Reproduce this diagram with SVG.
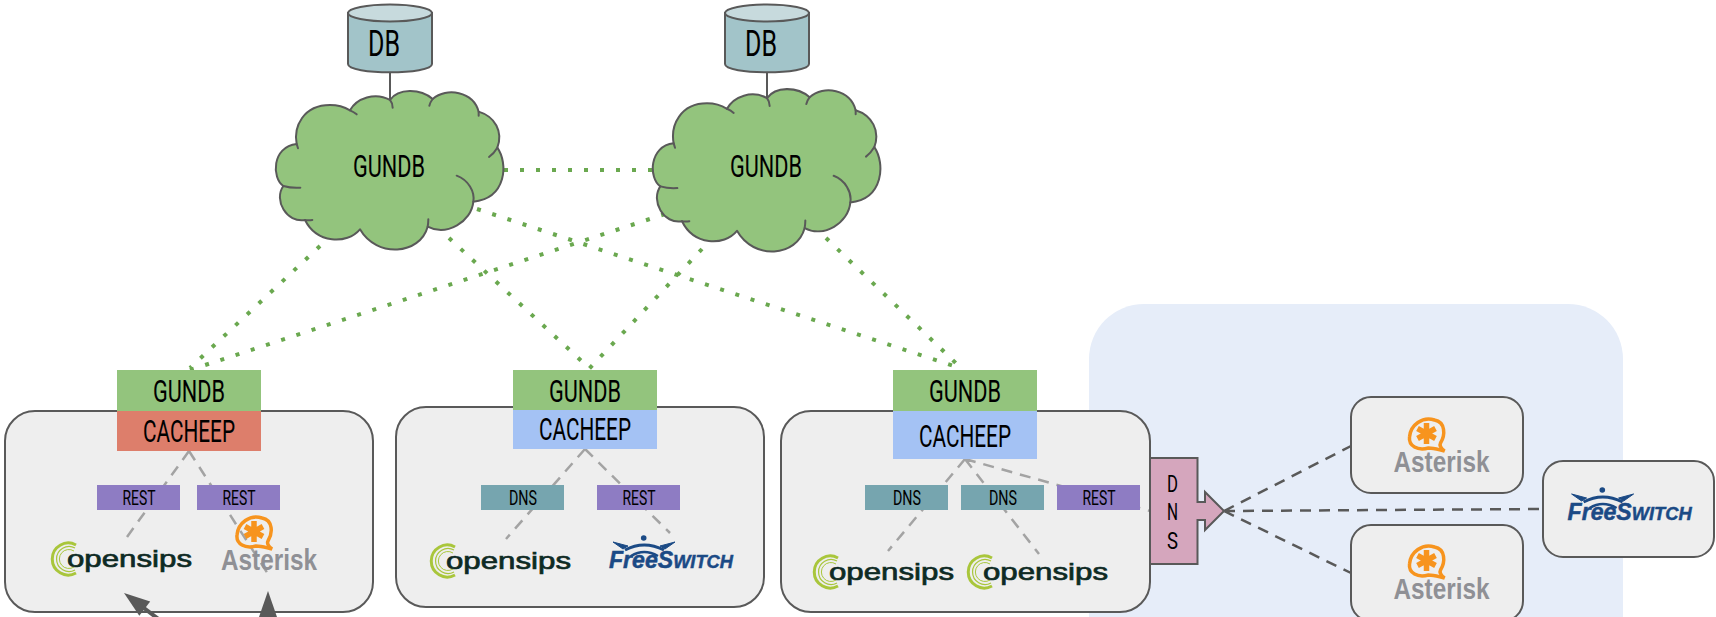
<svg xmlns="http://www.w3.org/2000/svg" xmlns:xlink="http://www.w3.org/1999/xlink" width="1716" height="617" viewBox="0 0 1716 617">
<style>
text{font-family:Roboto,"Liberation Sans",sans-serif;fill:#000;text-anchor:middle}
.big{font-size:31px}
.small{font-size:21px}
.box{fill:#eeeeee;stroke:#595959;stroke-width:2}
.gun{fill:#93c47d}.red{fill:#dd7e6b}.blu{fill:#a4c2f4}.rest{fill:#8e7cc3}.dns{fill:#76a5af}
.dot{fill:none;stroke:#6aa84f;stroke-width:4;stroke-dasharray:4 12}
.dash{fill:none;stroke:#a3a3a3;stroke-width:2.500;stroke-dasharray:11 8}
.dash2{fill:none;stroke:#595959;stroke-width:2.500;stroke-dasharray:11 8}
.solid{stroke:#595959;stroke-width:2;fill:none}
.cl{fill:#93c47d;stroke:#595959;stroke-width:6;stroke-linejoin:round}
.cl2{fill:none;stroke:#595959;stroke-width:6;stroke-linecap:round}
.osi{font-family:"Liberation Sans",sans-serif;font-size:24px;fill:#0e2a24;text-anchor:start;stroke:#0e2a24;stroke-width:.7}
.ast{font-family:"Liberation Sans",sans-serif;font-size:29px;fill:#8f9095;font-weight:bold;text-anchor:start}
.fs{font-family:"Liberation Sans",sans-serif;font-size:24px;fill:#1b4a85;font-weight:bold;font-style:italic;text-anchor:start;stroke:#1b4a85;stroke-width:.5}
.fs2{font-size:19px}
</style>
<defs>
<marker id="head" markerUnits="userSpaceOnUse" markerWidth="30" markerHeight="24" viewBox="0 0 30 24" refX="18" refY="12" orient="auto"><path d="M2,3 L28,12 L2,21 Z" fill="#595959"/></marker>
<g id="cloud">
<path class="cl" d="M140,432 C130,380 160,315 240,315 C265,315 285,322 300,331 C320,295 375,275 420,300 C445,265 510,265 548,297 C590,260 670,275 686,335 C735,350 760,395 742,443 C775,490 770,595 670,605 C665,665 590,710 533,680 C510,765 380,775 330,688 C290,735 200,730 165,660 C110,670 70,600 100,558 C65,535 65,440 140,432 Z"/>
<path class="cl2" d="M300,331 Q312,336 320,343 M420,300 Q428,310 428,323 M548,297 Q541,306 538,317 M686,335 L686,347 M742,443 Q732,460 717,471 M620,527 C655,540 675,575 670,605 M533,680 Q535,668 535,658 M165,660 Q176,662 187,660 M100,558 Q125,565 151,563 M140,432 Q142,438 144,445"/>
</g>
<g id="cyl">
<path d="M348,13 V64 C348,75 432,75 432,64 V13 Z" fill="#a2c4c9" stroke="#595959" stroke-width="2"/>
<ellipse cx="390" cy="13" rx="42" ry="8.500" fill="#c7dadd" stroke="#595959" stroke-width="2"/>
</g>
<g id="swirl" fill="none" stroke="#a9c63b">
<path d="M76,545 A16,16 0 1 0 76,573" stroke-width="3"/>
<path d="M75,548 A12.500,12.500 0 1 0 75,570" stroke-width="1.200"/>
<path d="M74,551 A9.500,9.500 0 1 0 74,567" stroke-width="1"/>
</g>
<g id="bubble">
<path d="M262,518 C250,514 238,523 237,535 C236,544 245,549 256,546 C262,546 267,548 272,549 C268,546 267,543 268,541 C273,533 273,520 262,518 Z" fill="none" stroke="#f7941e" stroke-width="3.500"/>
<path d="M254,521 V542 M245,526.500 L263,536.500 M263,526.500 L245,536.500" stroke="#f7941e" stroke-width="5.500" fill="none"/>
</g>
<g id="wings" fill="none" stroke="#1b4a85">
<circle cx="643.700" cy="538" r="2.800" fill="#1b4a85" stroke="none"/>
<path d="M613,542 L628,546 L623,549 Z M675,542 L660,546 L665,549 Z" fill="#1b4a85" stroke-width="1"/>
<path d="M625,550 Q644,540 664,550" stroke-width="3"/>
<path d="M631,556 Q644,548 658,556" stroke-width="2.500"/>
</g>
</defs>

<rect id="region" x="1089" y="304" width="534" height="400" rx="55" fill="#e6edf9"/>

<g id="host1"><rect class="box" x="5" y="411" width="368" height="201" rx="30"/></g>
<g id="host2"><rect class="box" x="396" y="407" width="368" height="200" rx="30"/></g>
<g id="host3"><rect class="box" x="781" y="411" width="369" height="201" rx="30"/></g>

<g id="connectors">
<path class="dot" d="M504,170 H653"/>
<path class="dot" d="M320,246 L190,368"/>
<path class="dot" d="M449,238 L588,367"/>
<path class="dot" d="M477,209 L963,369"/>
<path class="dot" d="M665,214 L190,370"/>
<path class="dot" d="M702,249 L588,370"/>
<path class="dot" d="M826,238 L963,370"/>
<path class="solid" d="M390,72 V100 M767,72 V98"/>
<path class="dash" d="M189,451 L127,537 M189,451 L268,574"/>
<path class="dash" d="M585,449 L506,539 M585,449 L670,533"/>
<path class="dash" d="M965,459 L888,551 M965,459 L1039,554 M965,459 L1150,511"/>
<path class="dash2" d="M1224,511 L1351,446 M1224,511 L1351,573 M1224,511 L1542,509"/>
<line x1="165" y1="624" x2="132" y2="599" stroke="#595959" stroke-width="4" marker-end="url(#head)"/>
<line x1="268" y1="640" x2="268" y2="601" stroke="#595959" stroke-width="4" marker-end="url(#head)"/>
</g>

<g id="db1"><use xlink:href="#cyl"/><text x="384" y="56" textLength="32" lengthAdjust="spacingAndGlyphs" style="font-size:37px">DB</text></g>
<g id="db2"><use xlink:href="#cyl" transform="translate(377,0)"/><text x="761" y="56" textLength="32" lengthAdjust="spacingAndGlyphs" style="font-size:37px">DB</text></g>
<g id="cloud1"><use xlink:href="#cloud" transform="translate(250,0) scale(.33333)"/><text class="big" x="389" y="177" textLength="72" lengthAdjust="spacingAndGlyphs">GUNDB</text></g>
<g id="cloud2"><use xlink:href="#cloud" transform="translate(627,-4.300) scale(.33333,.3417)"/><text class="big" x="766" y="177" textLength="72" lengthAdjust="spacingAndGlyphs">GUNDB</text></g>

<g id="gundb1"><rect class="gun" x="117" y="370" width="144" height="41"/><text class="big" x="189" y="402" textLength="72" lengthAdjust="spacingAndGlyphs">GUNDB</text></g>
<g id="cacheep1"><rect class="red" x="117" y="411" width="144" height="40"/><text class="big" x="189" y="442" textLength="92" lengthAdjust="spacingAndGlyphs">CACHEEP</text></g>
<g id="rest1"><rect class="rest" x="97" y="485" width="83" height="25"/><text class="small" x="139" y="505" textLength="33" lengthAdjust="spacingAndGlyphs">REST</text></g>
<g id="rest2"><rect class="rest" x="197" y="485" width="83" height="25"/><text class="small" x="239" y="505" textLength="33" lengthAdjust="spacingAndGlyphs">REST</text></g>
<g id="opensips1"><use xlink:href="#swirl"/><text class="osi" x="67" y="567" textLength="125" lengthAdjust="spacingAndGlyphs">opensips</text></g>
<g id="asterisk1"><use xlink:href="#bubble"/><text class="ast" x="221" y="570" textLength="96" lengthAdjust="spacingAndGlyphs">Asterisk</text></g>

<g id="gundb2"><rect class="gun" x="513" y="370" width="144" height="40"/><text class="big" x="585" y="402" textLength="72" lengthAdjust="spacingAndGlyphs">GUNDB</text></g>
<g id="cacheep2"><rect class="blu" x="513" y="410" width="144" height="39"/><text class="big" x="585" y="440" textLength="92" lengthAdjust="spacingAndGlyphs">CACHEEP</text></g>
<g id="dns2"><rect class="dns" x="481" y="485" width="83" height="25"/><text class="small" x="523" y="505" textLength="28" lengthAdjust="spacingAndGlyphs">DNS</text></g>
<g id="rest3"><rect class="rest" x="597" y="485" width="83" height="25"/><text class="small" x="639" y="505" textLength="33" lengthAdjust="spacingAndGlyphs">REST</text></g>
<g id="opensips2"><use xlink:href="#swirl" transform="translate(379,2)"/><text class="osi" x="446" y="569" textLength="125" lengthAdjust="spacingAndGlyphs">opensips</text></g>
<g id="freeswitch1"><use xlink:href="#wings"/><text class="fs" x="609" y="568" textLength="124" lengthAdjust="spacingAndGlyphs">FreeS<tspan class="fs2">WITCH</tspan></text></g>

<g id="gundb3"><rect class="gun" x="893" y="370" width="144" height="41"/><text class="big" x="965" y="402" textLength="72" lengthAdjust="spacingAndGlyphs">GUNDB</text></g>
<g id="cacheep3"><rect class="blu" x="893" y="411" width="144" height="48"/><text class="big" x="965" y="447" textLength="92" lengthAdjust="spacingAndGlyphs">CACHEEP</text></g>
<g id="dns3"><rect class="dns" x="865" y="485" width="83" height="25"/><text class="small" x="907" y="505" textLength="28" lengthAdjust="spacingAndGlyphs">DNS</text></g>
<g id="dns4"><rect class="dns" x="961" y="485" width="83" height="25"/><text class="small" x="1003" y="505" textLength="28" lengthAdjust="spacingAndGlyphs">DNS</text></g>
<g id="rest4"><rect class="rest" x="1057" y="485" width="83" height="25"/><text class="small" x="1099" y="505" textLength="33" lengthAdjust="spacingAndGlyphs">REST</text></g>
<g id="opensips3"><use xlink:href="#swirl" transform="translate(762,13)"/><text class="osi" x="829" y="580" textLength="125" lengthAdjust="spacingAndGlyphs">opensips</text></g>
<g id="opensips4"><use xlink:href="#swirl" transform="translate(916,13)"/><text class="osi" x="983" y="580" textLength="125" lengthAdjust="spacingAndGlyphs">opensips</text></g>

<g id="dnsarrow">
<path d="M1150,458 H1197.500 V502 H1205 V492 L1224,511 L1205,530 V520 H1197.500 V564 H1150 Z" fill="#d5a6bd" stroke="#595959" stroke-width="2"/>
<text x="1172.500" y="492" style="font-size:23px" textLength="11" lengthAdjust="spacingAndGlyphs">D</text>
<text x="1172.500" y="520" style="font-size:23px" textLength="11" lengthAdjust="spacingAndGlyphs">N</text>
<text x="1172.500" y="549" style="font-size:23px" textLength="11" lengthAdjust="spacingAndGlyphs">S</text>
</g>

<g id="asterisk2"><rect class="box" x="1351" y="397" width="172" height="96" rx="20"/><use xlink:href="#bubble" transform="translate(1172.500,-98)"/><text class="ast" x="1393.500" y="472" textLength="96" lengthAdjust="spacingAndGlyphs">Asterisk</text></g>
<g id="asterisk3"><rect class="box" x="1351" y="525" width="172" height="96" rx="20"/><use xlink:href="#bubble" transform="translate(1172.500,29)"/><text class="ast" x="1393.500" y="599" textLength="96" lengthAdjust="spacingAndGlyphs">Asterisk</text></g>
<g id="freeswitch2"><rect class="box" x="1543" y="461" width="171" height="96" rx="20"/><use xlink:href="#wings" transform="translate(958.600,-48)"/><text class="fs" x="1567.600" y="520" textLength="124" lengthAdjust="spacingAndGlyphs">FreeS<tspan class="fs2">WITCH</tspan></text></g>
</svg>
